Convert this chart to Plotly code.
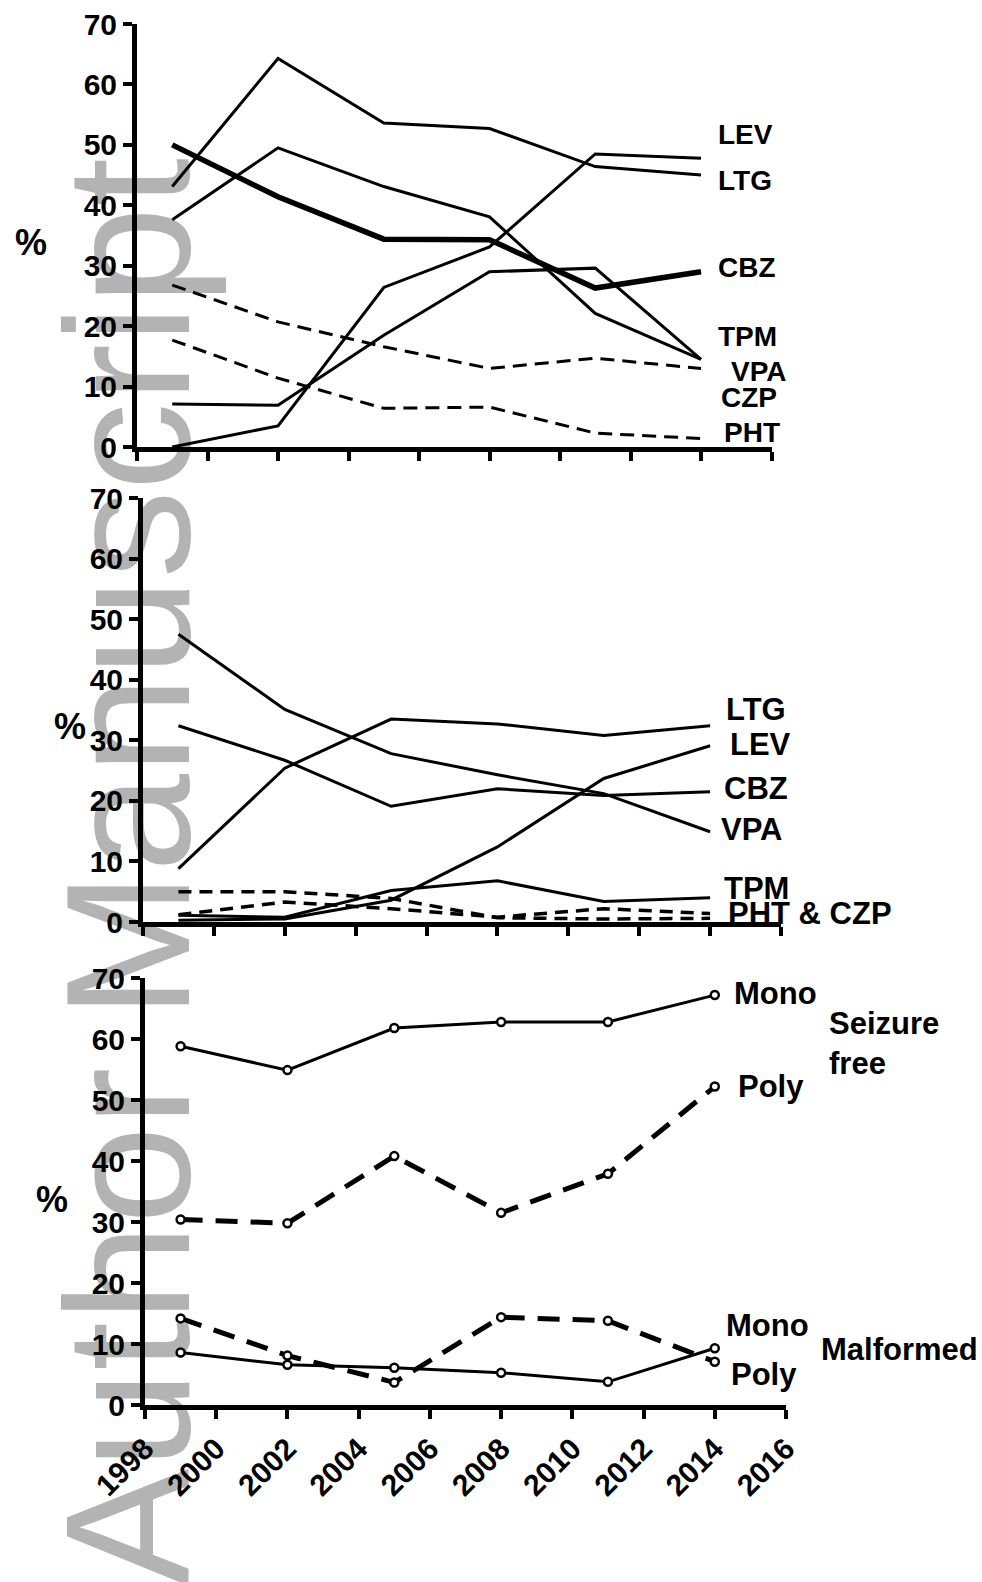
import plotly.graph_objects as go

W, H = 982, 1582

years = [1999, 2002, 2005, 2008, 2011, 2014]

# Top panel
top_LEV = [0.0, 3.5, 26.4, 33.1, 48.5, 47.8]
top_LTG = [43.1, 64.3, 53.6, 52.7, 46.4, 45.0]
top_CBZ = [50.0, 41.4, 34.4, 34.3, 26.3, 29.0]
top_VPA = [37.6, 49.5, 43.1, 38.1, 22.1, 14.5]
top_TPM = [7.1, 6.9, 18.5, 29.0, 29.6, 14.5]
top_CZP = [26.8, 20.7, 16.6, 13.0, 14.7, 13.0]
top_PHT = [17.7, 11.4, 6.4, 6.6, 2.3, 1.4]

# Middle panel
mid_LTG = [8.8, 25.4, 33.5, 32.7, 30.8, 32.4]
mid_LEV = [0.3, 0.5, 3.6, 12.4, 23.7, 29.1]
mid_CBZ = [32.4, 26.7, 19.1, 22.0, 20.9, 21.5]
mid_VPA = [47.5, 35.1, 27.8, 24.3, 21.2, 14.9]
mid_TPM = [1.1, 0.8, 5.2, 6.8, 3.4, 4.0]
mid_PHT = [5.0, 5.0, 3.9, 0.7, 0.5, 0.6]
mid_CZP = [1.2, 3.3, 2.2, 0.8, 2.2, 1.4]

# Bottom panel
sf_mono = [58.8, 54.9, 61.8, 62.8, 62.8, 67.2]
sf_poly = [30.4, 29.8, 40.8, 31.5, 37.9, 52.2]
mal_poly = [14.2, 8.1, 3.7, 14.4, 13.8, 7.1]
mal_mono = [8.6, 6.6, 6.1, 5.3, 3.8, 9.3]

y_ticks = [0, 10, 20, 30, 40, 50, 60, 70]
x_ticks = [1998, 2000, 2002, 2004, 2006, 2008, 2010, 2012, 2014, 2016]

FONT = "Liberation Sans"


def X(px):
    return px / W


def Y(py):
    return 1 - py / H


fig = go.Figure()


def add_line(vals, xa, ya, width=3, dash=None, markers=False, name=""):
    line = dict(color="black", width=width)
    if dash:
        line["dash"] = dash
    kw = dict(x=years, y=vals, xaxis=xa, yaxis=ya, name=name,
              line=line, showlegend=False, hoverinfo="skip")
    if markers:
        kw["mode"] = "lines+markers"
        kw["marker"] = dict(size=8, color="white", line=dict(color="black", width=2.5))
    else:
        kw["mode"] = "lines"
    fig.add_trace(go.Scatter(**kw))


# top
add_line(top_CZP, "x", "y", 3, "14px,8px", name="CZP")
add_line(top_PHT, "x", "y", 3, "14px,8px", name="PHT")
add_line(top_LTG, "x", "y", 3, name="LTG")
add_line(top_LEV, "x", "y", 3, name="LEV")
add_line(top_VPA, "x", "y", 3, name="VPA")
add_line(top_TPM, "x", "y", 3, name="TPM")
add_line(top_CBZ, "x", "y", 5.5, name="CBZ")
# middle
add_line(mid_PHT, "x2", "y2", 3.5, "13px,8px", name="PHT")
add_line(mid_CZP, "x2", "y2", 3.5, "13px,8px", name="CZP")
add_line(mid_LTG, "x2", "y2", 3, name="LTG")
add_line(mid_LEV, "x2", "y2", 3, name="LEV")
add_line(mid_CBZ, "x2", "y2", 3, name="CBZ")
add_line(mid_VPA, "x2", "y2", 3, name="VPA")
add_line(mid_TPM, "x2", "y2", 3, name="TPM")
# bottom
add_line(sf_poly, "x3", "y3", 5, "22px,13px", True, name="Seizure free poly")
add_line(mal_poly, "x3", "y3", 5, "22px,13px", True, name="Malformed poly")
add_line(sf_mono, "x3", "y3", 3, None, True, name="Seizure free mono")
add_line(mal_mono, "x3", "y3", 3, None, True, name="Malformed mono")

tickfont = dict(family=FONT, size=30, color="black", weight="bold")
common = dict(showline=True, linewidth=5, linecolor="black", ticks="outside",
              ticklen=9, tickwidth=4, tickcolor="black", showgrid=False,
              zeroline=False, fixedrange=True, automargin=False)

panels = [
    # (x0px, x1px, ytop_px(70), ybot_px(0))
    (137, 771.5, 24, 447),
    (143, 781, 498, 922),
    (145, 786, 978, 1405),
]

layout_axes = {}
for i, (x0, x1, yt, yb) in enumerate(panels):
    sfx = "" if i == 0 else str(i + 1)
    layout_axes["xaxis" + sfx] = dict(
        common, domain=[X(x0), X(x1)], range=[1998, 2016],
        tickvals=x_ticks, ticktext=[str(t) for t in x_ticks],
        showticklabels=(i == 2), tickangle=-45, tickfont=tickfont,
        anchor="y" + sfx)
    layout_axes["yaxis" + sfx] = dict(
        common, domain=[Y(yb), Y(yt)], range=[0, 70],
        tickvals=y_ticks, ticktext=[str(t) for t in y_ticks],
        tickfont=tickfont, anchor="x" + sfx)

fig.update_layout(**layout_axes)

ann = []


def label(text, px, py, size=31, xanchor="left", bold=True, align="left"):
    f = dict(family=FONT, size=size, color="black")
    if bold:
        f["weight"] = "bold"
    ann.append(dict(text=text, x=X(px), y=Y(py), xref="paper", yref="paper",
                    xanchor=xanchor, yanchor="middle", showarrow=False,
                    font=f, align=align))


# top labels
for t, px, py in [("LEV", 716, 135), ("LTG", 716, 180), ("CBZ", 716, 267),
                  ("TPM", 716, 336), ("VPA", 729, 371), ("CZP", 719, 397),
                  ("PHT", 722, 432)]:
    label(t, px, py, size=28)
# middle labels
for t, px, py in [("LTG", 724, 710), ("LEV", 728, 744), ("CBZ", 722, 788),
                  ("VPA", 719, 829), ("TPM", 722, 888), ("PHT &amp; CZP", 726, 913)]:
    label(t, px, py, size=31)
# bottom labels
for t, px, py in [("Mono", 732, 993), ("Poly", 736, 1086),
                  ("Mono", 724, 1325), ("Poly", 729, 1374),
                  ("Malformed", 819, 1349)]:
    label(t, px, py, size=31)
label("Seizure<br>free", 827, 1043, size=31)

# % axis titles
label("%", 31, 242, size=36, xanchor="center")
label("%", 70, 726, size=36, xanchor="center")
label("%", 52, 1199, size=36, xanchor="center")

# watermark behind the plot (shape label on lower layer)
wm_cx, wm_cy = 111, 872
fig.add_shape(type="rect", xref="paper", yref="paper",
              x0=X(wm_cx - 100), x1=X(wm_cx + 100),
              y0=Y(wm_cy + 760), y1=Y(wm_cy - 760),
              line=dict(width=0), fillcolor="rgba(0,0,0,0)", layer="below",
              label=dict(text="Author Manuscript", textangle=-90,
                         textposition="middle center",
                         font=dict(family=FONT, size=176, color="#b3b3b3")))

fig.update_layout(
    width=W, height=H, margin=dict(l=0, r=0, t=0, b=0, autoexpand=False),
    paper_bgcolor="white", plot_bgcolor="rgba(0,0,0,0)",
    annotations=ann, showlegend=False,
)

fig.write_html("out.html", config={"displayModeBar": False},
               post_script="document.body.style.margin='0';document.body.style.overflow='hidden';")
